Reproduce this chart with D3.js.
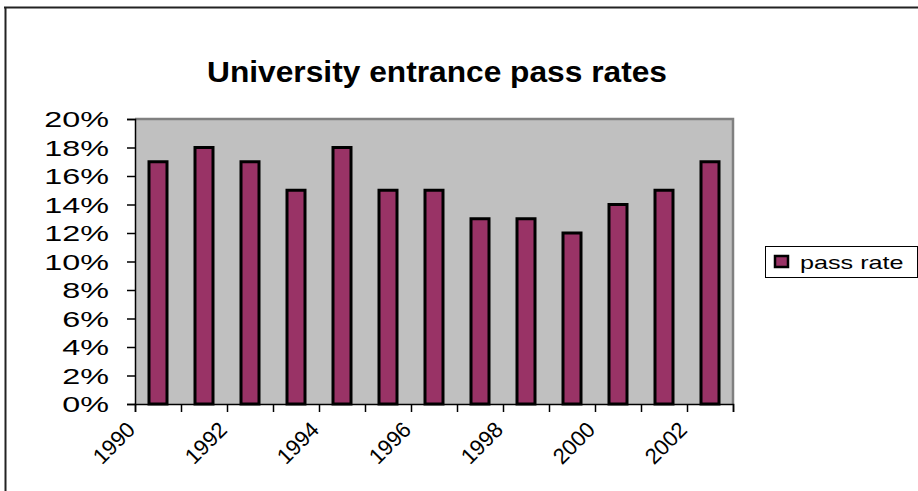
<!DOCTYPE html>
<html>
<head>
<meta charset="utf-8">
<script src="https://cdn.jsdelivr.net/npm/d3@7"></script>
<style>
  html, body { margin: 0; padding: 0; background: #fff; }
  svg { display: block; font-family: "Liberation Sans", Arial, sans-serif; }
</style>
</head>
<body>
<svg id="chart" width="918" height="491"></svg>
<script>
// Pass rates by year
const years = [1990, 1991, 1992, 1993, 1994, 1995, 1996, 1997, 1998, 1999, 2000, 2001, 2002];
const passRates = [0.17, 0.18, 0.17, 0.15, 0.18, 0.15, 0.15, 0.13, 0.13, 0.12, 0.14, 0.15, 0.17];
const yTicks = [0, 0.02, 0.04, 0.06, 0.08, 0.10, 0.12, 0.14, 0.16, 0.18, 0.20];
const xTickLabels = ["1990", "1992", "1994", "1996", "1998", "2000", "2002"];
const seriesName = "pass rate";
const titleText = "University entrance pass rates";

const svg = d3.select("#chart");
const W = 918, H = 491;
const plot = { left: 135, right: 733, top: 119, bottom: 404 };
const sx = 1.47; // horizontal stretch of the upright labels

// outer frame (top and left edges)
svg.append("line").attr("x1", 4).attr("x2", W).attr("y1", 7.5).attr("y2", 7.5)
  .attr("stroke", "#222").attr("stroke-width", 2);
svg.append("line").attr("x1", 5.5).attr("x2", 5.5).attr("y1", 7).attr("y2", H)
  .attr("stroke", "#222").attr("stroke-width", 2);

const x = d3.scaleLinear().domain([years[0], years[years.length - 1] + 1]).range([plot.left, plot.right]);
const y = d3.scaleLinear().domain([0, 0.2]).range([plot.bottom, plot.top]);

// plot area
svg.append("rect")
  .attr("x", plot.left).attr("y", plot.top)
  .attr("width", plot.right - plot.left).attr("height", plot.bottom - plot.top)
  .attr("fill", "#c0c0c0");
svg.append("path")
  .attr("d", `M${plot.left},${plot.top} H${plot.right} V${plot.bottom}`)
  .attr("fill", "none").attr("stroke", "#808080").attr("stroke-width", 2.5);

// bars
const barW = 18;
svg.append("g").selectAll("rect").data(years).join("rect")
  .attr("x", (d) => x(d + 0.5) - barW / 2)
  .attr("width", barW)
  .attr("y", (d, i) => y(passRates[i]))
  .attr("height", (d, i) => y(0) - y(passRates[i]))
  .attr("fill", "#993366")
  .attr("stroke", "#000").attr("stroke-width", 3);

// y axis
const yAxis = svg.append("g").attr("transform", `translate(${plot.left},0)`)
  .call(d3.axisLeft(y).tickValues(yTicks).tickSize(8).tickFormat(d3.format(".0%")));
yAxis.select(".domain").attr("stroke", "#000").attr("stroke-width", 1.5);
yAxis.selectAll(".tick line").attr("stroke", "#000").attr("stroke-width", 1.5);
yAxis.selectAll(".tick text")
  .attr("x", 0).attr("dy", "0.36em")
  .attr("transform", `translate(-26,0) scale(${sx},1)`)
  .attr("font-size", 22).attr("fill", "#000")
  .attr("font-family", "Liberation Sans, Arial, sans-serif");

// x axis
const xTickValues = d3.range(years[0], years[years.length - 1] + 2);
const xAxis = svg.append("g").attr("transform", `translate(0,${plot.bottom})`)
  .call(d3.axisBottom(x).tickValues(xTickValues).tickSize(8)
    .tickFormat((d) => xTickLabels.includes(String(d)) ? String(d) : ""));
xAxis.select(".domain").attr("stroke", "#000").attr("stroke-width", 1.5);
xAxis.selectAll(".tick line").attr("stroke", "#000").attr("stroke-width", 1.5);
xAxis.selectAll(".tick text")
  .attr("x", 0).attr("y", 0).attr("dy", 0)
  .attr("text-anchor", "end")
  .attr("transform", "translate(1,27) rotate(-45)")
  .attr("font-size", 22).attr("fill", "#000")
  .attr("font-family", "Liberation Sans, Arial, sans-serif");

// title
svg.append("text")
  .attr("transform", "translate(437,82) scale(1.057,1)")
  .attr("text-anchor", "middle")
  .attr("font-size", 30).attr("font-weight", "bold")
  .text(titleText);

// legend
const lg = svg.append("g");
lg.append("rect").attr("x", 765.5).attr("y", 246.5).attr("width", 152).attr("height", 31)
  .attr("fill", "#fff").attr("stroke", "#000").attr("stroke-width", 1);
lg.append("rect").attr("x", 775).attr("y", 256).attr("width", 13).attr("height", 11)
  .attr("fill", "#993366").attr("stroke", "#000").attr("stroke-width", 2.5);
lg.append("text")
  .attr("transform", `translate(800,269) scale(1.4,1)`)
  .attr("font-size", 18).attr("fill", "#000")
  .text(seriesName);
</script>
</body>
</html>
